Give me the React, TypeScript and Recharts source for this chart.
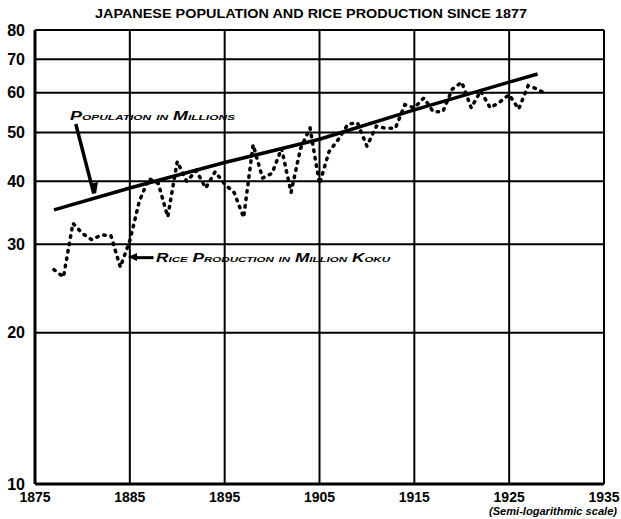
import { LineChart, Line, XAxis, YAxis, CartesianGrid, ReferenceLine, Customized } from 'recharts'

const yearTicks = [1875, 1885, 1895, 1905, 1915, 1925, 1935]
const valueTicks = [10, 20, 30, 40, 50, 60, 70, 80]

// population in millions (straight-ish on log scale)
const popYears = [1877, 1885, 1895, 1905, 1915, 1925, 1928]
const popValues = [35.1, 38.8, 43.6, 48.5, 55.5, 63.0, 65.4]

// rice production in million koku, one point per year
const riceYears = [
  1877, 1878, 1879, 1880, 1881, 1882, 1883, 1884, 1885, 1886, 1887, 1888, 1889,
  1890, 1891, 1892, 1893, 1894, 1895, 1896, 1897, 1898, 1899, 1900, 1901, 1902,
  1903, 1904, 1905, 1906, 1907, 1908, 1909, 1910, 1911, 1912, 1913, 1914, 1915,
  1916, 1917, 1918, 1919, 1920, 1921, 1922, 1923, 1924, 1925, 1926, 1927, 1928, 1929,
]
const riceValues = [
  26.7, 25.8, 33.0, 31.5, 30.6, 31.3, 31.2, 27.0, 30.5, 36.5, 40.5, 39.6, 34.0,
  43.8, 40.0, 42.0, 38.8, 41.8, 39.5, 38.0, 33.9, 47.3, 40.6, 41.5, 46.5, 38.0,
  46.5, 51.1, 39.5, 45.8, 48.5, 52.0, 52.3, 47.0, 51.5, 51.0, 51.0, 56.8, 56.0,
  58.6, 55.0, 55.0, 61.0, 63.0, 56.0, 60.5, 56.0, 57.5, 59.5, 55.7, 62.0, 61.0, 59.5,
]

const popData = popYears.map((year, i) => ({ year, pop: popValues[i] }))
const riceData = riceYears.map((year, i) => ({ year, rice: riceValues[i] }))

const FONT = '"Liberation Sans", Arial, sans-serif'

function Notes() {
  return (
    <g fontFamily={FONT} fill="#000">
      <text x={311} y={18} textAnchor="middle" fontSize={12} fontWeight={900} textLength={432} lengthAdjust="spacingAndGlyphs">
        JAPANESE POPULATION AND RICE PRODUCTION SINCE 1877
      </text>
      <text x={70} y={120} fontSize={12} fontWeight={900} fontStyle="italic" style={{ fontVariant: 'small-caps' }} textLength={165} lengthAdjust="spacingAndGlyphs">
        Population in Millions
      </text>
      <text x={156} y={262} fontSize={12} fontWeight={900} fontStyle="italic" style={{ fontVariant: 'small-caps' }} textLength={234} lengthAdjust="spacingAndGlyphs">
        Rice Production in Million Koku
      </text>
      <polygon points="128,257 137,253 137,261" fill="#000" />
      <polygon points="96,194 90,184 98,182" fill="#000" />
      <text x={617} y={515} textAnchor="end" fontSize={11} fontWeight={700} fontStyle="italic" textLength={128} lengthAdjust="spacingAndGlyphs">
        (Semi-logarithmic scale)
      </text>
    </g>
  )
}

export default function App() {
  return (
    <div style={{ position: 'absolute', left: 0, top: 0, background: '#fff' }}>
      <LineChart width={621} height={519} margin={{ top: 30, right: 17, bottom: 0, left: 0 }}>
        <CartesianGrid stroke="#000" strokeWidth={2} horizontalValues={valueTicks} verticalValues={yearTicks} />
        <XAxis
          type="number"
          dataKey="year"
          domain={[1875, 1935]}
          ticks={yearTicks}
          allowDuplicatedCategory={false}
          interval={0}
          height={35}
          tickLine={false}
          tickMargin={2}
          axisLine={{ stroke: '#000', strokeWidth: 3 }}
          tick={{ fill: '#000', fontSize: 14, fontWeight: 900, fontFamily: FONT }}
        />
        <YAxis
          scale="log"
          domain={[10, 80]}
          ticks={valueTicks}
          interval={0}
          width={35}
          tickLine={false}
          tickMargin={4}
          axisLine={{ stroke: '#000', strokeWidth: 3 }}
          tick={{ fill: '#000', fontSize: 16, fontWeight: 900, fontFamily: FONT }}
          allowDataOverflow
        />
        <Line data={popData} dataKey="pop" type="linear" stroke="#000" strokeWidth={3.5} dot={false} isAnimationActive={false} />
        <Line data={riceData} dataKey="rice" type="linear" stroke="#000" strokeWidth={3.5} strokeDasharray="1.5 6" strokeLinecap="round" dot={false} isAnimationActive={false} />
        <ReferenceLine segment={[{ x: 1879.3, y: 52 }, { x: 1881.2, y: 37.8 }]} stroke="#000" strokeWidth={3.5} ifOverflow="visible" />
        <ReferenceLine segment={[{ x: 1885.5, y: 28.2 }, { x: 1887.5, y: 28.2 }]} stroke="#000" strokeWidth={3} ifOverflow="visible" />
        <Customized component={Notes} />
      </LineChart>
    </div>
  )
}
